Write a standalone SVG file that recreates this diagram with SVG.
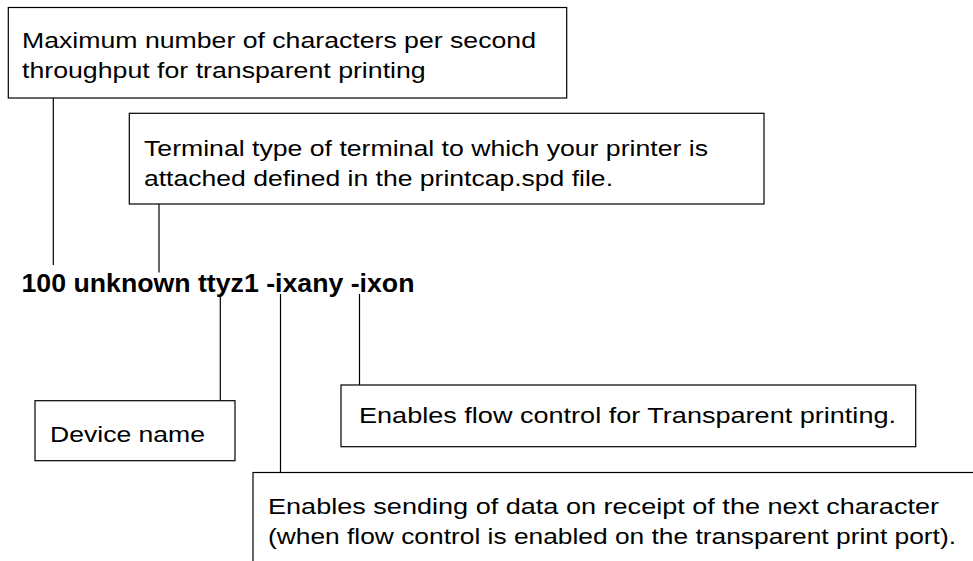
<svg xmlns="http://www.w3.org/2000/svg" width="973" height="561" viewBox="0 0 973 561">
<style>
.box{fill:#fff;stroke:#000;stroke-width:1.2}
.lbl{font-family:"Liberation Sans",Arial,sans-serif;font-size:21.5px;fill:#000}
.cmd{font-family:"Liberation Sans",Arial,sans-serif;font-size:26.7px;font-weight:bold;fill:#000}
.conn line{stroke:#000;stroke-width:1.2}
</style>
<rect width="973" height="561" fill="#fff"/>
<g class="conn">
<line x1="53.3" y1="98" x2="53.3" y2="265"/>
<line x1="159" y1="204" x2="159" y2="272.5"/>
<line x1="220.3" y1="294" x2="220.3" y2="400.7"/>
<line x1="280.5" y1="294" x2="280.5" y2="472.5"/>
<line x1="359.5" y1="294" x2="359.5" y2="385"/>
</g>
<g id="n-throughput">
<rect class="box" x="8.3" y="7.5" width="558.4" height="90.5"/>
<text class="lbl" x="22" y="47.7" textLength="514" lengthAdjust="spacingAndGlyphs">Maximum number of characters per second</text>
<text class="lbl" x="22" y="78" textLength="403.7" lengthAdjust="spacingAndGlyphs">throughput for transparent printing</text>
</g>
<g id="n-terminal">
<rect class="box" x="129.3" y="113.3" width="634.7" height="90.7"/>
<text class="lbl" x="144" y="155.5" textLength="564" lengthAdjust="spacingAndGlyphs">Terminal type of terminal to which your printer is</text>
<text class="lbl" x="144" y="185.5" textLength="469" lengthAdjust="spacingAndGlyphs">attached defined in the printcap.spd file.</text>
</g>
<g id="n-command">
<text class="cmd" x="21.5" y="291.7">100 unknown ttyz1 -ixany -ixon</text>
</g>
<g id="n-device">
<rect class="box" x="35" y="400.7" width="200" height="60"/>
<text class="lbl" x="50" y="441.7" textLength="155" lengthAdjust="spacingAndGlyphs">Device name</text>
</g>
<g id="n-ixon">
<rect class="box" x="341" y="385" width="574.7" height="61.7"/>
<text class="lbl" x="359" y="423" textLength="537" lengthAdjust="spacingAndGlyphs">Enables flow control for Transparent printing.</text>
</g>
<g id="n-ixany">
<rect class="box" x="253" y="472.5" width="740" height="100"/>
<text class="lbl" x="268" y="514.3" textLength="671" lengthAdjust="spacingAndGlyphs">Enables sending of data on receipt of the next character</text>
<text class="lbl" x="268" y="544" textLength="688" lengthAdjust="spacingAndGlyphs">(when flow control is enabled on the transparent print port).</text>
</g>
</svg>
